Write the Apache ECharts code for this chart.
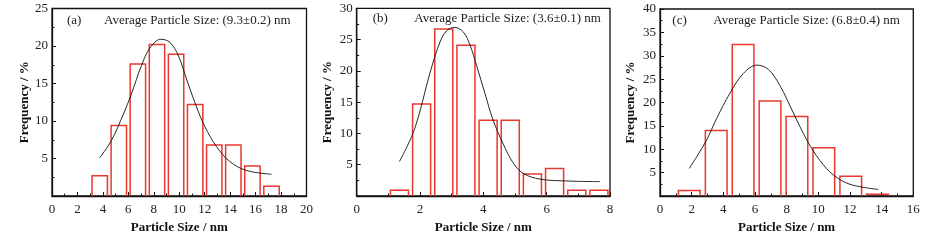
<!DOCTYPE html>
<html><head><meta charset="utf-8">
<script src="https://cdn.jsdelivr.net/npm/echarts@6/dist/echarts.min.js"></script>
<style>html,body{margin:0;padding:0;background:#fff}#c{width:934px;height:248px}</style>
</head><body><div id="c"></div>
<script>
// ---- Data ----
// Panel (a)
const binsA = [3.75, 5.25, 6.75, 8.25, 9.75, 11.25, 12.75, 14.25, 15.75, 17.25];
const freqA = [2.7, 9.4, 17.6, 20.2, 18.9, 12.2, 6.8, 6.8, 4.0, 1.3];
const fitXA = [3.75, 4.67, 5.58, 6.24, 7.03, 7.68, 8.55, 9.25, 9.91, 10.57, 11.35, 12.0, 12.92, 13.97, 15.28, 17.25];
const fitYA = [5.1, 7.4, 10.8, 13.6, 17.4, 19.7, 20.9, 20.5, 18.8, 15.6, 11.9, 9.3, 6.6, 4.6, 3.4, 2.9];
// Panel (b)
const binsB = [1.35, 2.05, 2.75, 3.45, 4.15, 4.85, 5.55, 6.25, 6.95, 7.65];
const freqB = [0.9, 14.7, 26.7, 24.1, 12.1, 12.1, 3.5, 4.4, 0.9, 0.9];
const fitXB = [1.35, 1.76, 2.0, 2.31, 2.63, 2.84, 3.1, 3.37, 3.58, 3.79, 4.05, 4.31, 4.63, 4.94, 5.26, 5.79, 6.63, 7.68];
const fitYB = [5.5, 9.8, 13.6, 19.6, 24.6, 26.4, 26.95, 26.2, 24.1, 20.8, 16.4, 12.1, 8.3, 5.3, 3.6, 2.7, 2.4, 2.3];
// Panel (c)
const binsC = [1.85, 3.55, 5.25, 6.95, 8.65, 10.35, 12.05, 13.75];
const freqC = [1.2, 14.0, 32.4, 20.3, 17.0, 10.3, 4.2, 0.4];
const fitXC = [1.85, 2.32, 2.95, 3.58, 4.42, 5.26, 6.11, 6.84, 7.58, 8.42, 9.27, 10.1, 10.95, 12.0, 13.79];
const fitYC = [5.9, 8.4, 12.0, 16.6, 22.0, 26.2, 28.0, 27.1, 23.6, 17.8, 12.0, 7.6, 4.5, 2.5, 1.4];
// Axis ticks
const xMax = [20, 8, 16];
const xStep = [2, 2, 2];
const yMax = [25, 30, 40];
const yStep = [5, 5, 5];
const panelLabels = ['(a)', '(b)', '(c)'];
const avgTexts = ['Average Particle Size: (9.3\u00b10.2) nm', 'Average Particle Size: (3.6\u00b10.1) nm', 'Average Particle Size: (6.8\u00b10.4) nm'];
const xName = 'Particle Size / nm';
const yName = 'Frequency / %';

// ---- Layout / style ----
const SERIF = "'Liberation Serif', 'DejaVu Serif', serif";
const grids = [
  {left: 52, top: 8.5, width: 254.5, height: 187.5},
  {left: 356.7, top: 8.3, width: 253.3, height: 187.7},
  {left: 660, top: 9, width: 253.3, height: 187}
];
const barW = [1.21, 0.57, 1.37];
const yNameGap = [20, 23, 23];
const bins = [binsA, binsB, binsC];
const freqs = [freqA, freqB, freqC];
const fitX = [fitXA, fitXB, fitXC];
const fitY = [fitYA, fitYB, fitYC];
const RED = '#e8382f';

const option = {
  animation: false,
  grid: grids.map(g => Object.assign({show: true, borderColor: '#111', borderWidth: 1.3, backgroundColor: 'transparent'}, g)),
  xAxis: [0,1,2].map(i => ({
    type: 'value', gridIndex: i, min: 0, max: xMax[i], interval: xStep[i],
    name: xName, nameLocation: 'middle', nameGap: 25,
    nameTextStyle: {fontFamily: SERIF, fontWeight: 'bold', fontSize: 13, color: '#111'},
    axisLine: {show: true, onZero: false, lineStyle: {color: '#111', width: 1.3}},
    axisTick: {show: true, inside: true, length: 4, lineStyle: {color: '#111', width: 1}},
    minorTick: {show: true, splitNumber: 2, length: 2.5, lineStyle: {color: '#111', width: 1}},
    splitLine: {show: false},
    axisLabel: {fontFamily: SERIF, fontSize: 13, color: '#222', margin: 7}
  })),
  yAxis: [0,1,2].map(i => ({
    type: 'value', gridIndex: i, min: 0, max: yMax[i], interval: yStep[i],
    name: yName, nameLocation: 'middle', nameGap: yNameGap[i],
    nameTextStyle: {fontFamily: SERIF, fontWeight: 'bold', fontSize: 13, color: '#111'},
    axisLine: {show: true, onZero: false, lineStyle: {color: '#111', width: 1.3}},
    axisTick: {show: true, inside: true, length: 4, lineStyle: {color: '#111', width: 1}},
    minorTick: {show: true, splitNumber: 2, length: 2.5, lineStyle: {color: '#111', width: 1}},
    splitLine: {show: false},
    axisLabel: {fontFamily: SERIF, fontSize: 13, color: '#222', margin: 4,
      formatter: v => v === 0 ? '' : String(v)}
  })),
  series: [],
  graphic: []
};

[0,1,2].forEach(i => {
  const w = barW[i];
  option.series.push({
    type: 'custom', xAxisIndex: i, yAxisIndex: i, z: 3,
    data: bins[i].map((c, k) => [c, freqs[i][k]]),
    renderItem: (params, api) => {
      const c = api.value(0), h = api.value(1);
      const p1 = api.coord([c - w / 2, 0]);
      const p2 = api.coord([c - w / 2, h]);
      const p3 = api.coord([c + w / 2, h]);
      const p4 = api.coord([c + w / 2, 0]);
      return {type: 'polyline', shape: {points: [p1, p2, p3, p4]},
        style: {stroke: RED, lineWidth: 1.5, fill: null}};
    }
  });
  option.series.push({
    type: 'line', xAxisIndex: i, yAxisIndex: i, z: 4, smooth: 0.35,
    showSymbol: false, symbol: 'none',
    data: fitX[i].map((x, k) => [x, fitY[i][k]]),
    lineStyle: {color: '#111', width: 0.9}
  });
});

const lblPos = [[67, 21], [372.7, 18.5], [672.3, 21]];
const avgPos = [[104, 21], [414.3, 18.5], [713.3, 21]];
[0,1,2].forEach(i => {
  option.graphic.push({type: 'text', x: lblPos[i][0], y: lblPos[i][1], z: 10,
    style: {text: panelLabels[i], font: '13px ' + SERIF, fill: '#222', verticalAlign: 'middle', align: 'left'}});
  option.graphic.push({type: 'text', x: avgPos[i][0], y: avgPos[i][1], z: 10,
    style: {text: avgTexts[i], font: '13px ' + SERIF, fill: '#222', verticalAlign: 'middle', align: 'left'}});
});

const chart = echarts.init(document.getElementById('c'), null, {renderer: 'canvas'});
chart.setOption(option);
</script>
</body></html>
